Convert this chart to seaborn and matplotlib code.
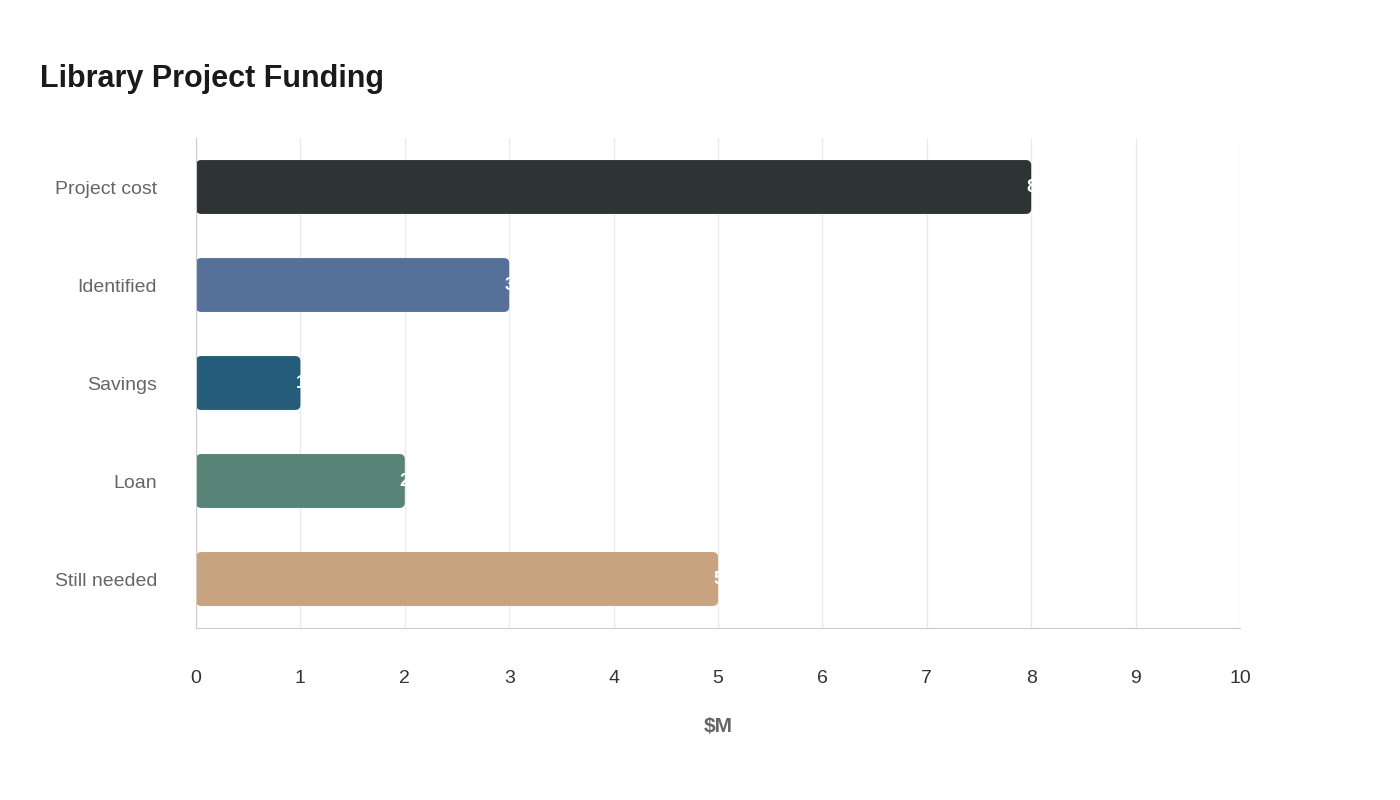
import matplotlib
matplotlib.use("Agg")
import matplotlib.pyplot as plt
import seaborn as sns
import pandas as pd
from matplotlib.patches import FancyBboxPatch

categories = ["Project cost", "Identified", "Savings", "Loan", "Still needed"]
values = [8, 3, 1, 2, 5]
colors = ["#2d3436", "#4a6fa5", "#166088", "#4f8b7a", "#d4a373"]

sns.set_style("white")
plt.rcParams["font.family"] = ["Liberation Sans", "DejaVu Sans"]

df = pd.DataFrame({"cat": categories, "val": values})
fig = plt.figure(figsize=(14, 8), dpi=100)
ax = fig.add_axes([196 / 1400, 1 - 628 / 800, (1240 - 196) / 1400, (628 - 138) / 800])
sns.barplot(data=df, x="val", y="cat", hue="cat", palette=colors, width=0.55,
            legend=False, ax=ax, zorder=2)

# swap the plain rectangles for rounded ones
for p in list(ax.patches):
    x, y, w, h = p.get_x(), p.get_y(), p.get_width(), p.get_height()
    fc = p.get_facecolor()
    p.remove()
    r = 0.05
    ax.add_patch(FancyBboxPatch((x + r, y + r * 1.06), w - 2 * r, h - 2 * r * 1.06,
                                boxstyle=f"round,pad={r}", mutation_aspect=1.06,
                                fc=fc, ec="none", zorder=2))
    ax.text(x + w, y + h / 2, f"{w:g}", color="white", ha="center", va="center",
            fontsize=13, fontweight="bold", zorder=3)

ax.set_xlim(0, 10)
ax.set_ylim(4.5, -0.5)
ax.set_xticks(range(0, 11))
ax.grid(axis="x", color="#ebebeb", linewidth=1, zorder=0)
for s in ["top", "right"]:
    ax.spines[s].set_visible(False)
ax.spines["left"].set_color("#cccccc")
ax.spines["bottom"].set_color("#cccccc")
ax.tick_params(axis="x", length=0, pad=30, labelsize=14, labelcolor="#333333")
ax.tick_params(axis="y", length=0, pad=28, labelsize=14, labelcolor="#666666")
ax.set_ylabel("")
ax.set_xlabel("$M", fontsize=15, fontweight="bold", color="#666666", labelpad=22)
fig.text(40 / 1400, 1 - 79 / 800, "Library Project Funding", fontsize=22,
         fontweight="bold", color="#1a1a1a", va="center")

fig.savefig("out.png", dpi=100)
